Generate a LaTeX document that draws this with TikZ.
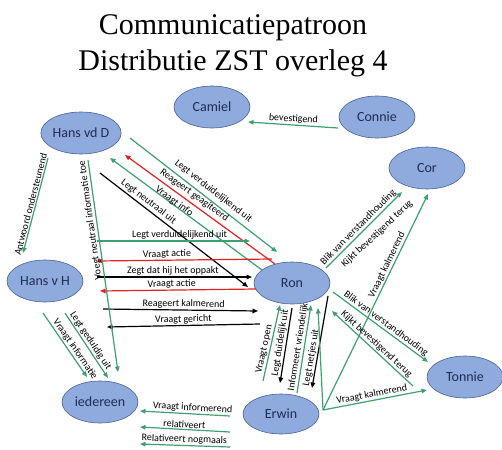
\documentclass[tikz,border=0pt]{standalone}
\usepackage{fontspec}
\setmainfont{Carlito}
\newfontfamily\kopletter{Liberation Serif}
\usetikzlibrary{arrows.meta,shapes.geometric}
\definecolor{persoonvul}{RGB}{143,170,220}
\definecolor{persoonrand}{RGB}{72,96,150}
\definecolor{naamkleur}{RGB}{31,45,85}
\definecolor{groen}{RGB}{62,160,112}
\definecolor{rood}{RGB}{228,32,32}
\tikzset{
  persoon/.style={ellipse, draw=persoonrand, line width=0.6pt, fill=persoonvul,
    minimum width=76pt, minimum height=42pt, inner sep=0pt, text=naamkleur,
    font=\fontsize{14}{16}\selectfont},
  titel/.style={anchor=base, inner sep=0pt},
  lijn/.style={line width=1.2pt},
  lbl/.style={font=\fontsize{10}{12}\selectfont, sloped, above, inner sep=1pt},
  losse/.style={font=\fontsize{10}{12}\selectfont, inner sep=1pt}
}
\begin{document}
\begin{tikzpicture}[x=1pt, y=-1pt, >={Triangle[length=5.5pt,width=4.5pt]}]
\useasboundingbox (0,0) rectangle (502,449);

% title
\node[titel] (titel1) at (233,35) {\kopletter\fontsize{30}{36}\selectfont Communicatiepatroon};
\node[titel] (titel2) at (233,71) {\kopletter\fontsize{30}{36}\selectfont Distributie ZST overleg 4};

% people
\node[persoon] (camiel)   at (212,107) {Camiel};
\node[persoon] (connie)   at (377,117) {Connie};
\node[persoon] (hvd)      at (81,133)  {Hans vd D};
\node[persoon] (cor)      at (427,168) {Cor};
\node[persoon] (hvh)      at (45,281)  {Hans v H};
\node[persoon] (ron)      at (292,283) {Ron};
\node[persoon] (iedereen) at (100,402) {iedereen};
\node[persoon, minimum height=40pt] (erwin) at (281,414) {Erwin};
\node[persoon] (tonnie)   at (465,377) {Tonnie};

% end points of the arrows
\coordinate (cb1) at (248,122); \coordinate (cb2) at (338,128);
\coordinate (d1a) at (130,138); \coordinate (d1b) at (277,252);
\coordinate (d2a) at (125,155); \coordinate (d2b) at (275,264);
\coordinate (d3a) at (110,158); \coordinate (d3b) at (262,270);
\coordinate (d4a) at (100,173); \coordinate (d4b) at (248,287);
\coordinate (h1a) at (97,241);  \coordinate (h1b) at (250,241);
\coordinate (h2a) at (97,261);  \coordinate (h2b) at (272,259);
\coordinate (h3a) at (97,277);  \coordinate (h3b) at (252,277);
\coordinate (h4a) at (100,291); \coordinate (h4b) at (256,289);
\coordinate (h5a) at (103,309); \coordinate (h5b) at (258,311);
\coordinate (h6a) at (107,327); \coordinate (h6b) at (260,324);
\coordinate (v1a) at (23,253);  \coordinate (v1b) at (48,158);
\coordinate (v2a) at (118,372); \coordinate (v2b) at (88,160);
\coordinate (v3a) at (65,313);  \coordinate (v3b) at (108,378);
\coordinate (v4a) at (43,313);  \coordinate (v4b) at (87,377);
\coordinate (b1a) at (140,411); \coordinate (b1b) at (230,416);
\coordinate (b2a) at (140,427); \coordinate (b2b) at (230,432);
\coordinate (b3a) at (140,444); \coordinate (b3b) at (230,447);
\coordinate (e1a) at (263,381); \coordinate (e1b) at (280,305);
\coordinate (e2a) at (280,383); \coordinate (e2b) at (292,308);
\coordinate (e3a) at (297,393); \coordinate (e3b) at (311,305);
\coordinate (e4a) at (312,388); \coordinate (e4b) at (328,296);
\coordinate (ev)  at (323,410); \coordinate (e5b) at (318,308);
\coordinate (r1a) at (326,268); \coordinate (r1b) at (402,192);
\coordinate (r2b) at (428,194);
\coordinate (r3a) at (333,292); \coordinate (r3b) at (428,362);
\coordinate (r4a) at (332,311); \coordinate (r4b) at (413,386);
\coordinate (r5b) at (427,390);

% Connie -> Camiel
\draw[lijn, groen, <-] (cb1) -- node[lbl, text=black, pos=0.5] (l01) {bevestigend} (cb2);

% Hans vd D <-> Ron (diagonal)
\draw[lijn, groen, ->] (d1a) -- node[lbl, text=black, pos=0.53, above=3pt] (l02) {Legt verduidelijkend uit} (d1b);
\draw[lijn, rood, <-]  (d2a) -- node[lbl, text=black, pos=0.43, above=2pt] (l03) {Reageert geagiteerd} (d2b);
\draw[lijn, groen, <-] (d3a) -- node[lbl, text=black, pos=0.41, above=-3pt] (l04) {Vraagt info} (d3b);
\draw[lijn, black, ->] (d4a) -- node[lbl, text=black, pos=0.30, above=1pt] (l05) {Legt neutraal uit} (d4b);

% Hans v H <-> Ron (horizontal)
\draw[lijn, groen, ->] (h1a) -- node[lbl, text=black, pos=0.54] (l06) {Legt verduidelijkend uit} (h1b);
\draw[lijn, rood, <-]  (h2a) -- node[lbl, text=black, pos=0.40] (l07) {Vraagt actie} (h2b);
\draw[lijn, black, ->] (h3a) -- node[lbl, text=black, pos=0.49] (l08) {Zegt dat hij het oppakt} (h3b);
\draw[lijn, rood, <-]  (h4a) -- node[lbl, text=black, pos=0.46] (l09) {Vraagt actie} (h4b);
\draw[lijn, black, ->] (h5a) -- node[lbl, text=black, pos=0.52] (l10) {Reageert kalmerend} (h5b);
\draw[lijn, black, <-] (h6a) -- node[lbl, text=black, pos=0.50] (l11) {Vraagt gericht} (h6b);

% left column
\draw[lijn, groen, <-] (v1a) -- node[lbl, text=black, pos=0.5] (l12) {Antwoord ondersteunend} (v1b);
\draw[lijn, groen, <-] (v2a) -- node[lbl, text=black, pos=0.72, allow upside down] (l13) {Voegt neutraal informatie toe} (v2b);
\draw[lijn, groen, ->] (v3a) -- node[lbl, text=black, pos=0.48] (l14) {Legt geduldig uit} (v3b);
\draw[lijn, groen, ->] (v4a) -- node[lbl, text=black, pos=0.62] (l15) {Vraagt informatie} (v4b);

% Erwin -> iedereen
\draw[lijn, groen, <-] (b1a) -- node[lbl, text=black, pos=0.58] (l16) {Vraagt informerend} (b1b);
\draw[lijn, groen, <-] (b2a) -- node[lbl, text=black, pos=0.49] (l17) {relativeert} (b2b);
\draw[lijn, groen, <-] (b3a) -- node[lbl, text=black, pos=0.49] (l18) {Relativeert nogmaals} (b3b);

% Erwin <-> Ron
\draw[lijn, groen, ->] (e1a) -- node[lbl, text=black, pos=0.40] (l19) {Vraagt open} (e1b);
\draw[lijn, black, <-] (e2a) -- node[lbl, text=black, pos=0.52] (l20) {Legt duidelijk uit} (e2b);
\draw[lijn, groen, ->] (e3a) -- node[lbl, text=black, pos=0.51] (l21) {Informeert vriendelijk} (e3b);
\draw[lijn, black, <-] (e4a) -- node[lbl, text=black, pos=0.32] (l22) {Legt netjes uit} (e4b);
\draw[lijn, groen, ->] (ev) -- (e5b);

% Ron / Erwin -> Cor and Tonnie
\draw[lijn, groen, ->] (r1a) -- node[lbl, text=black, pos=0.48] (l23) {Blik van verstandhouding} (r1b);
\node[losse, rotate=43] (l24) at (377,234) {Kijkt bevestigend terug};
\draw[lijn, groen, ->] (ev) -- node[lbl, text=black, pos=0.66] (l25) {Vraagt kalmerend} (r2b);
\draw[lijn, groen, ->] (r3a) -- node[lbl, text=black, pos=0.52] (l26) {Blik van verstandhouding} (r3b);
\draw[lijn, groen, <-] (r4a) -- node[lbl, text=black, pos=0.50] (l27) {Kijkt bevestigend terug} (r4b);
\draw[lijn, groen, ->] (ev) -- node[lbl, text=black, pos=0.48] (l28) {Vraagt kalmerend} (r5b);
\end{tikzpicture}
\end{document}
